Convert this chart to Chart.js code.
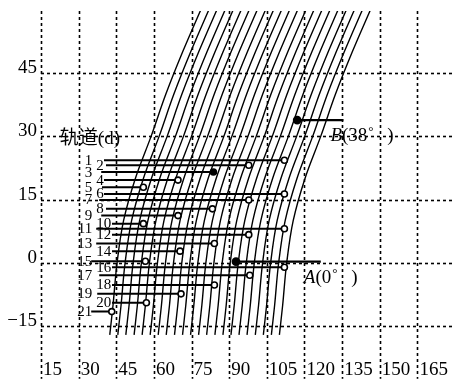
<!DOCTYPE html>
<html>
<head>
<meta charset="utf-8">
<script src="https://cdn.jsdelivr.net/npm/chart.js@4.4.1/dist/chart.umd.min.js"></script>
<style>
    html, body { margin: 0; padding: 0; background: #fff; }
    #wrap { width: 460px; height: 385px; }
</style>
</head>
<body>
<div id="wrap"><canvas id="myChart"></canvas></div>
<script>
"use strict";

// tick labels
const lonTicks = [15, 30, 45, 60, 75, 90, 105, 120, 135, 150, 165];
const latTicks = [45, 30, 15, 0, -15];

// shape of one ground track: latitude and longitude offset from its equator crossing
const shapeLat = [-17, -10, 0, 10, 20, 30, 40, 50, 61];
const shapeShift = [-2.9, -1.6, 0, 2.6, 7.3, 13.6, 19.5, 26.2, 34.2];

// equator crossing of every drawn track
const trackLon = [45.3, 48.5, 51.7, 55.0, 58.2, 61.4, 64.6, 67.8, 71.1, 74.3, 77.5,
    80.7, 83.9, 87.2, 90.4, 93.6, 96.8, 100.0, 103.3, 106.5, 109.7, 112.9];

// orbits 1..21: latitude of the line, where it starts and where its point sits
const orbitNo = [1, 2, 3, 4, 5, 6, 7, 8, 9, 10, 11, 12, 13, 14, 15, 16, 17, 18, 19, 20, 21];
const orbitLat = [24.3, 23.1, 21.5, 19.6, 17.9, 16.3, 14.9, 12.8, 11.2, 9.3, 8.1,
    6.7, 4.6, 2.8, 0.4, -1.0, -2.9, -5.2, -7.3, -9.4, -11.5];
const orbitStart = [40.1, 40.9, 39.0, 40.1, 39.3, 40.1, 38.2, 40.9, 39.0, 43.3, 37.0,
    43.3, 37.0, 43.3, 35.0, 43.3, 38.2, 43.3, 37.4, 43.3, 35.0];
const orbitEnd = [112.0, 97.8, 83.7, 69.6, 55.8, 112.0, 97.8, 83.3, 69.6, 55.8, 112.0,
    97.8, 84.1, 70.4, 56.6, 112.0, 98.2, 84.1, 70.8, 57.0, 43.2];
const filledOrbit = [3];

// the two marked stations
const pointA = { name: 'A', deg: '0', lat: 0.3, from: 92.7, to: 126.5 };
const pointB = { name: 'B', deg: '38', lat: 33.8, from: 117.1, to: 135.5 };

const datasets = [];

[pointA, pointB].forEach(p => {
    datasets.push({
        data: [{ x: p.from, y: p.lat }, { x: p.to, y: p.lat }],
        showLine: true,
        borderColor: '#000',
        borderWidth: 2.2,
        pointRadius: [3.3, 0],
        pointBackgroundColor: '#000',
        pointBorderColor: '#000'
    });
});

orbitNo.forEach((n, i) => {
    datasets.push({
        data: [{ x: orbitStart[i], y: orbitLat[i] }, { x: orbitEnd[i], y: orbitLat[i] }],
        showLine: true,
        borderColor: '#000',
        borderWidth: 2,
        pointRadius: [0, 3],
        pointBorderWidth: 1.6,
        pointBorderColor: '#000',
        pointBackgroundColor: filledOrbit.includes(n) ? '#000' : '#fff'
    });
});

trackLon.forEach(lon => {
    datasets.push({
        data: shapeLat.map((lat, k) => ({ x: lon + shapeShift[k], y: lat })),
        showLine: true,
        borderColor: '#000',
        borderWidth: 1.4,
        pointRadius: 0,
        tension: 0.35
    });
});

const serif = "'Liberation Serif', 'Noto Sans CJK SC', serif";

const paperLayer = {
    id: 'paperLayer',
    beforeDatasetsDraw(chart) {
        const { ctx, chartArea: a, scales: { x, y } } = chart;
        ctx.save();
        ctx.strokeStyle = '#000';
        ctx.lineWidth = 1.6;
        ctx.setLineDash([3, 3]);
        lonTicks.forEach(v => {
            const px = Math.round(x.getPixelForValue(v)) + 0.5;
            ctx.beginPath();
            ctx.moveTo(px, a.top);
            ctx.lineTo(px, a.bottom);
            ctx.stroke();
        });
        latTicks.forEach(v => {
            const py = Math.round(y.getPixelForValue(v)) + 0.5;
            ctx.beginPath();
            ctx.moveTo(a.left, py);
            ctx.lineTo(a.right, py);
            ctx.stroke();
        });
        ctx.restore();
    },
    afterDatasetsDraw(chart) {
        const { ctx, chartArea: a, scales: { x, y } } = chart;
        ctx.save();
        ctx.fillStyle = '#000';

        // axis numbers
        ctx.font = '19px ' + serif;
        ctx.textBaseline = 'alphabetic';
        ctx.textAlign = 'right';
        latTicks.forEach(v => {
            ctx.fillText(String(v).replace('-', '\u2212'), a.left - 4, y.getPixelForValue(v));
        });
        ctx.textAlign = 'left';
        lonTicks.forEach(v => {
            ctx.fillText(String(v), x.getPixelForValue(v) + 2, a.bottom - 4);
        });

        // orbit numbers
        ctx.font = '15px ' + serif;
        ctx.textBaseline = 'middle';
        orbitNo.forEach((n, i) => {
            const py = y.getPixelForValue(orbitLat[i]) + 0.5;
            if (n % 2) {
                ctx.textAlign = 'right';
                ctx.fillText(String(n), x.getPixelForValue(35.4), py);
            } else {
                ctx.textAlign = 'left';
                ctx.fillText(String(n), x.getPixelForValue(37.0), py);
            }
        });

        // 轨道 caption on the 30 line
        ctx.font = '19px ' + serif;
        ctx.textAlign = 'left';
        ctx.textBaseline = 'alphabetic';
        ctx.fillText('轨道(d)', x.getPixelForValue(22.5), y.getPixelForValue(30) + 8);

        // station names
        [pointA, pointB].forEach(p => {
            const px = x.getPixelForValue(p.to) - (p.name === 'A' ? 17 : 13);
            const py = y.getPixelForValue(p.lat) + 21;
            ctx.font = 'italic 19px ' + serif;
            ctx.fillText(p.name, px, py);
            const w = ctx.measureText(p.name).width;
            ctx.font = '19px ' + serif;
            ctx.fillText('(' + p.deg, px + w, py);
            const w2 = ctx.measureText('(' + p.deg).width;
            ctx.font = '13px ' + serif;
            ctx.fillText('\u00b0', px + w + w2 + 1, py - 6);
            ctx.font = '19px ' + serif;
            ctx.fillText(')', px + w + w2 + 20, py);
        });
        ctx.restore();
    }
};

new Chart(document.getElementById('myChart'), {
    type: 'scatter',
    data: { datasets: datasets },
    options: {
        responsive: true,
        maintainAspectRatio: false,
        animation: false,
        layout: { padding: { left: 41, top: 11, right: 0, bottom: 2 } },
        plugins: {
            legend: { display: false },
            tooltip: { enabled: false }
        },
        scales: {
            x: { type: 'linear', min: 15, max: 179.5, display: false },
            y: { type: 'linear', min: -27.4, max: 59.6, display: false }
        }
    },
    plugins: [paperLayer]
});
</script>
</body>
</html>
